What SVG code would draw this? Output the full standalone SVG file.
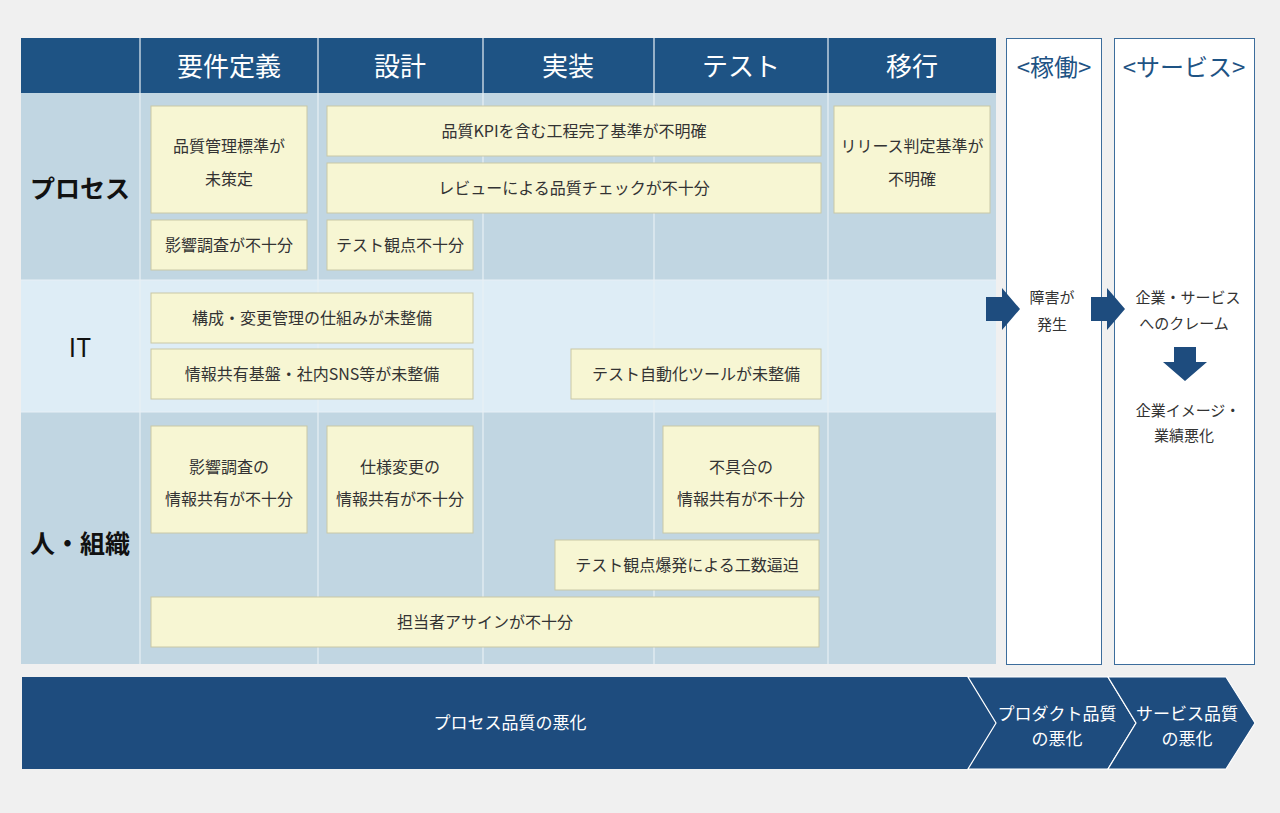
<svg xmlns="http://www.w3.org/2000/svg" width="1280" height="813" viewBox="0 0 1280 813">
<style>
text{font-family:"Noto Sans CJK JP","Noto Sans",sans-serif;}
.b rect{fill:#f7f6d3;stroke:#c9c8a6;stroke-width:1}
.b text{font-size:16px;fill:#333;text-anchor:middle}
.h{font-size:26px;fill:#fff;text-anchor:middle}
.r{font-size:25px;fill:#111;text-anchor:middle;font-weight:bold}
.s{font-size:15px;fill:#333;text-anchor:middle}
.w{font-size:17px;fill:#fff;text-anchor:middle}
.ar{fill:#1e4c7e}
</style>
<rect width="1280" height="813" fill="#f0f0f0"/>
<g id="table">
<rect x="21" y="38" width="975" height="55" fill="#1e5384"/>
<rect x="21" y="93" width="975" height="187" fill="#c1d6e2"/>
<rect x="21" y="280" width="975" height="132" fill="#deedf6"/>
<rect x="21" y="412" width="975" height="252" fill="#c1d6e2"/>
<g stroke="#e8f0f5" stroke-width="1.2">
<line x1="140" y1="38" x2="140" y2="664"/><line x1="318" y1="38" x2="318" y2="664"/>
<line x1="483" y1="38" x2="483" y2="664"/><line x1="654" y1="38" x2="654" y2="664"/>
<line x1="828" y1="38" x2="828" y2="664"/>
<line x1="21" y1="280" x2="996" y2="280"/><line x1="21" y1="412" x2="996" y2="412"/>
</g>
<text class="h" x="229" y="76">要件定義</text><text class="h" x="400" y="76">設計</text>
<text class="h" x="568" y="76">実装</text><text class="h" x="741" y="76">テスト</text>
<text class="h" x="912" y="76">移行</text>
<text class="r" x="80" y="198">プロセス</text>
<text class="r" x="80" y="357" font-weight="normal" style="font-weight:normal">IT</text>
<text class="r" x="80" y="553">人・組織</text>
</g>
<g id="n1" class="b"><rect x="151" y="106" width="156" height="107"/><text x="229" y="152">品質管理標準が</text><text x="229" y="185">未策定</text></g>
<g id="n2" class="b"><rect x="327" y="106" width="494" height="50"/><text x="574" y="137">品質KPIを含む工程完了基準が不明確</text></g>
<g id="n3" class="b"><rect x="327" y="163" width="494" height="50"/><text x="574" y="194">レビューによる品質チェックが不十分</text></g>
<g id="n4" class="b"><rect x="834" y="106" width="156" height="107"/><text x="912" y="152">リリース判定基準が</text><text x="912" y="185">不明確</text></g>
<g id="n5" class="b"><rect x="151" y="220" width="156" height="50"/><text x="229" y="251">影響調査が不十分</text></g>
<g id="n6" class="b"><rect x="327" y="220" width="146" height="50"/><text x="400" y="251">テスト観点不十分</text></g>
<g id="n7" class="b"><rect x="151" y="293" width="322" height="50"/><text x="312" y="324">構成・変更管理の仕組みが未整備</text></g>
<g id="n8" class="b"><rect x="151" y="349" width="322" height="50"/><text x="312" y="380">情報共有基盤・社内SNS等が未整備</text></g>
<g id="n9" class="b"><rect x="571" y="349" width="250" height="50"/><text x="696" y="380">テスト自動化ツールが未整備</text></g>
<g id="n10" class="b"><rect x="151" y="426" width="156" height="107"/><text x="229" y="473">影響調査の</text><text x="229" y="505">情報共有が不十分</text></g>
<g id="n11" class="b"><rect x="327" y="426" width="146" height="107"/><text x="400" y="473">仕様変更の</text><text x="400" y="505">情報共有が不十分</text></g>
<g id="n12" class="b"><rect x="663" y="426" width="156" height="107"/><text x="741" y="473">不具合の</text><text x="741" y="505">情報共有が不十分</text></g>
<g id="n13" class="b"><rect x="555" y="540" width="264" height="50"/><text x="687" y="571">テスト観点爆発による工数逼迫</text></g>
<g id="n14" class="b"><rect x="151" y="597" width="668" height="50"/><text x="485" y="628">担当者アサインが不十分</text></g>
<g id="kadou"><rect x="1006.5" y="38.5" width="95" height="626" fill="#fff" stroke="#3c6d9c"/>
<text x="1054" y="76" font-size="24" fill="#1e5384" text-anchor="middle">&lt;稼働&gt;</text>
<text class="s" x="1052" y="303">障害が</text><text class="s" x="1052" y="330">発生</text></g>
<g id="service"><rect x="1114.5" y="38.5" width="140" height="626" fill="#fff" stroke="#3c6d9c"/>
<text x="1184" y="76" font-size="24" fill="#1e5384" text-anchor="middle">&lt;サービス&gt;</text>
<text class="s" x="1188" y="303">企業・サービス</text><text class="s" x="1184" y="329">へのクレーム</text>
<text class="s" x="1188" y="416">企業イメージ・</text><text class="s" x="1184" y="441">業績悪化</text></g>
<g id="connectors">
<polygon class="ar" points="986,297 1002,297 1002,288 1020,309 1002,330 1002,321 986,321"/>
<polygon class="ar" points="1091,297 1107,297 1107,288 1125,309 1107,330 1107,321 1091,321"/>
<polygon class="ar" points="1174,347 1196,347 1196,362 1207,362 1185,381 1163,362 1174,362"/>
</g>
<g id="band">
<polygon fill="#1e4c7e" points="22,677 968,677 996,723 968,769 22,769"/>
<polygon fill="#1e4c7e" stroke="#fff" stroke-width="1.2" points="968,677 1108,677 1136,723 1108,769 968,769 996,723"/>
<polygon fill="#1e4c7e" stroke="#fff" stroke-width="1.2" points="1108,677 1226,677 1255,723 1226,769 1108,769 1136,723"/>
<text class="w" x="510" y="729" font-size="19">プロセス品質の悪化</text>
<text class="w" x="1057" y="720" font-size="15">プロダクト品質</text><text class="w" x="1057" y="745" font-size="15">の悪化</text>
<text class="w" x="1187" y="720" font-size="15">サービス品質</text><text class="w" x="1187" y="745" font-size="15">の悪化</text>
</g>
</svg>
